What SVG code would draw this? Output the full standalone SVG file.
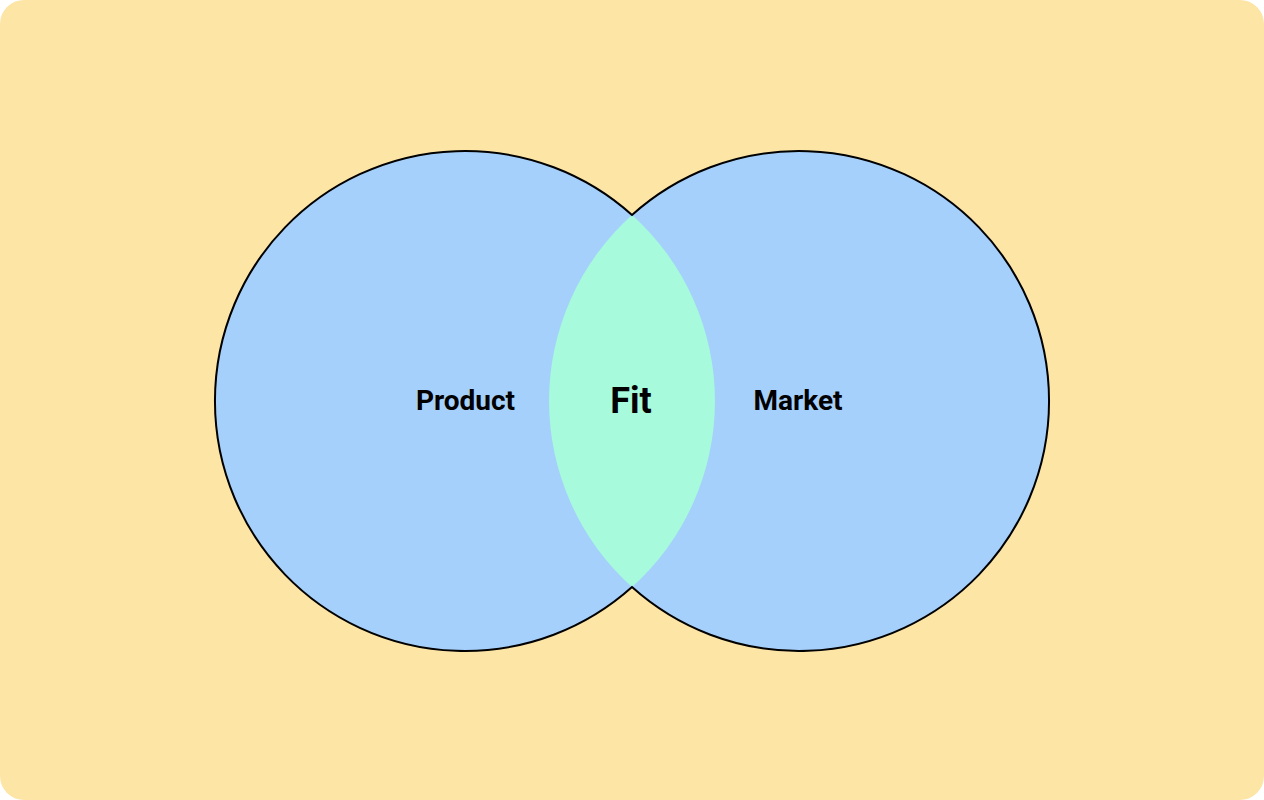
<svg xmlns="http://www.w3.org/2000/svg" width="1264" height="800" viewBox="0 0 1264 800">
<style>
.lbl{font-family:Roboto,"Liberation Sans",sans-serif;font-weight:bold;fill:#000;text-anchor:middle;dominant-baseline:central}
</style>
<rect width="1264" height="800" fill="#ffffff"/>
<rect width="1264" height="800" rx="24" ry="24" fill="#FDE5A6"/>
<g id="product">
<circle cx="465" cy="401" r="250" fill="#A6D0FC"/>
</g>
<g id="market">
<circle cx="799" cy="401" r="250" fill="#A6D0FC"/>
</g>
<g id="fit">
<path d="M632 215 A250 250 0 0 1 632 587 A250 250 0 0 1 632 215 Z" fill="#A7FADB"/>
</g>
<path d="M632 215 A250 250 0 1 0 632 587 A250 250 0 1 0 632 215 Z" fill="none" stroke="#000" stroke-width="2"/>
<text class="lbl" x="465.5" y="400" font-size="28">Product</text>
<text class="lbl" x="631" y="401" font-size="36">Fit</text>
<text class="lbl" x="798" y="400" font-size="28">Market</text>
</svg>
